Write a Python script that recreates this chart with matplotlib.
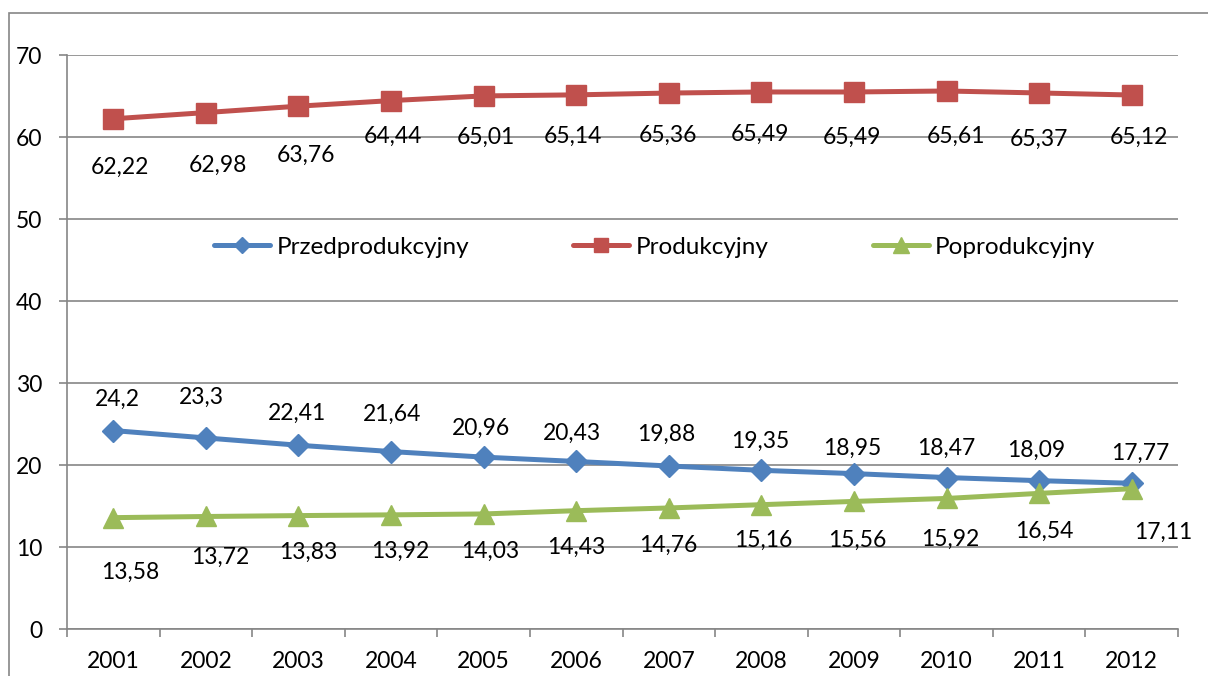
import matplotlib
matplotlib.use("Agg")
import matplotlib.pyplot as plt
from matplotlib.patches import Rectangle
import numpy as np

years = ["2001", "2002", "2003", "2004", "2005", "2006", "2007", "2008", "2009", "2010", "2011", "2012"]
przed = [24.2, 23.3, 22.41, 21.64, 20.96, 20.43, 19.88, 19.35, 18.95, 18.47, 18.09, 17.77]
prod = [62.22, 62.98, 63.76, 64.44, 65.01, 65.14, 65.36, 65.49, 65.49, 65.61, 65.37, 65.12]
poprod = [13.58, 13.72, 13.83, 13.92, 14.03, 14.43, 14.76, 15.16, 15.56, 15.92, 16.54, 17.11]
labels = ["Przedprodukcyjny", "Produkcyjny", "Poprodukcyjny"]

# label offsets in pixels (dx, dy) -- style only
prod_dx = [7, 12, 8, 2, 2, -3, -1, -1, -2, 9, 0, 7]
prod_dy = [-49, -53, -49, -36, -41, -41, -42, -42, -45, -45, -46, -42]
przed_dx = [4, -5, -1, 1, -3, -4, -3, -1, -2, 0, -3, 9]
przed_dy = [31, 41, 32, 37, 29, 28, 32, 29, 25, 29, 30, 30]
pop_dx = [17, 14, 10, 9, 7, 0, 0, 2, 3, 4, 5, 32]
pop_dy = [-55, -41, -37, -36, -37, -37, -37, -36, -39, -41, -38, -44]

plt.rcParams['font.family'] = ['Lato', 'DejaVu Sans']
FS = 16.5

fig = plt.figure(figsize=(12.08, 6.76), dpi=100)
ax = fig.add_axes([67/1208, 1-629/676, (1178-67)/1208, (629-55)/676])

fig.patches.append(Rectangle((9/1208, -0.1), 1.2, 1-13/676+0.1, transform=fig.transFigure,
                             fill=False, edgecolor="#868686", linewidth=1.2, zorder=0))

x = np.arange(len(years))
blue, red, green = "#4F81BD", "#C0504D", "#9BBB59"
ax.plot(x, przed, color=blue, lw=3.6, marker="D", ms=11, label=labels[0], solid_capstyle="round", zorder=3)
ax.plot(x, prod, color=red, lw=3.6, marker="s", ms=14, label=labels[1], solid_capstyle="round", zorder=3)
ax.plot(x, poprod, color=green, lw=3.6, marker="^", ms=15, label=labels[2], solid_capstyle="round", zorder=3)

def put(vals, dxs, dys):
    for xi, v, dx, dy in zip(x, vals, dxs, dys):
        ax.annotate(f"{v:g}".replace(".", ","), (xi, v), xytext=(dx * 0.72, dy * 0.72),
                    textcoords="offset points", ha="center", va="center", fontsize=FS, zorder=4)

put(prod, prod_dx, prod_dy)
put(przed, przed_dx, przed_dy)
put(poprod, pop_dx, pop_dy)

ax.set_xlim(-0.5, len(years) - 0.5)
ax.set_ylim(0, 70)
ax.set_yticks(range(0, 71, 10))
ax.yaxis.grid(True, color="#868686", lw=1.2)
ax.set_axisbelow(True)
ax.set_xticks(x)
ax.set_xticklabels(years)
ax.set_xticks(np.arange(-0.5, len(years)), minor=True)
ax.tick_params(axis="x", which="major", length=0, pad=16, labelsize=FS)
ax.tick_params(axis="x", which="minor", length=6, width=1.2, color="#868686", direction="out")
ax.tick_params(axis="y", length=6, width=1.2, color="#868686", pad=12, labelsize=FS)
for s in ["top", "right"]:
    ax.spines[s].set_visible(False)
for s in ["left", "bottom"]:
    ax.spines[s].set_color("#868686")
    ax.spines[s].set_linewidth(1.2)

leg = ax.legend(loc="center", bbox_to_anchor=(0.529, 1 - (247-55)/574), ncol=3, frameon=False,
                fontsize=17.5, handlelength=2.3, columnspacing=4.3, handletextpad=0.25,
                markerscale=0.75)

fig.savefig("out.png", dpi=100)
